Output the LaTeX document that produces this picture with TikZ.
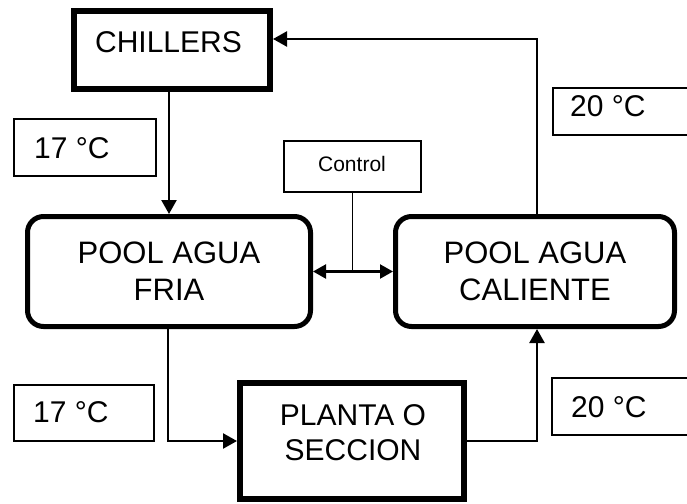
\documentclass[tikz,border=0pt]{standalone}
\usepackage{fontspec}
\setmainfont{Liberation Sans}
\usetikzlibrary{arrows.meta,calc}
\begin{document}
\begin{tikzpicture}[x=1pt,y=-1pt,
  thickbox/.style={draw,line width=6pt,inner sep=0pt},
  poolbox/.style={draw,line width=5pt,rounded corners=16pt,inner sep=0pt},
  tempbox/.style={draw,line width=1.8pt,inner sep=0pt},
  ctrlbox/.style={draw,line width=1.5pt,inner sep=0pt},
  bigtxt/.style={inner sep=0pt,font=\fontsize{30}{37}\selectfont,align=center},
  temptxt/.style={inner sep=0pt,anchor=west,font=\fontsize{30}{36}\selectfont},
  arr/.style={line width=2.4pt,-{Triangle[length=14pt,width=15pt]}},
  darr/.style={line width=2.2pt,{Triangle[length=13pt,width=14pt]}-{Triangle[length=13pt,width=14pt]}}]
\useasboundingbox (0,0) rectangle (687,503);
\clip (0,0) rectangle (687,503);
% boxes
\node[thickbox,minimum width=196pt,minimum height=78pt] (chillers) at (172,50) {};
\node[poolbox,minimum width=283pt,minimum height=110pt] (poolf) at (169,271.5) {};
\node[poolbox,minimum width=279pt,minimum height=110pt] (poolc) at (535,271.5) {};
\node[thickbox,minimum width=224pt,minimum height=116pt] (planta) at (352,441) {};
\node[tempbox,minimum width=142pt,minimum height=57pt] (t17a) at (85,147.5) {};
\node[tempbox,minimum width=140pt,minimum height=56pt] (t17b) at (84,413) {};
\node[tempbox,minimum width=147pt,minimum height=47pt] (t20a) at (626.5,111.5) {};
\node[tempbox,minimum width=148pt,minimum height=57pt] (t20b) at (626,406.5) {};
\node[ctrlbox,minimum width=137pt,minimum height=51pt] (control) at (352.5,166.5) {};
% texts
\node[bigtxt] (chtxt) at (168.5,42.5) {CHILLERS};
\node[bigtxt,font=\fontsize{31}{37}\selectfont] (pftxt) at (169,271.5) {POOL AGUA\\FRIA};
\node[bigtxt,font=\fontsize{31}{37}\selectfont] (pctxt) at (535,271.5) {POOL AGUA\\CALIENTE};
\node[bigtxt,font=\fontsize{30}{35}\selectfont] (pltxt) at (353,432.5) {PLANTA O\\SECCION};
\node[temptxt] (t17atxt) at (34,148) {17 °C};
\node[temptxt] (t17btxt) at (33,412.5) {17 °C};
\node[temptxt] (t20atxt) at (570,106) {20 °C};
\node[temptxt] (t20btxt) at (571,407) {20 °C};
\node[inner sep=0pt,font=\fontsize{21}{25}\selectfont] (ctxt) at (352,164) {Control};
% connectors
\draw[arr] (chillers.south -| poolf.north) -- (poolf.north);
\draw[arr] ([xshift=2pt]poolc.north) |- ([yshift=11pt]chillers.east);
\draw[darr] (poolf.east) -- (poolc.west);
\draw[line width=1.5pt] (control.south) -- (control.south |- poolf.east);
\draw[arr] ([xshift=-1pt]poolf.south) |- (planta.west);
\draw[arr] (planta.east) -| ([xshift=2pt]poolc.south);
\end{tikzpicture}
\end{document}
